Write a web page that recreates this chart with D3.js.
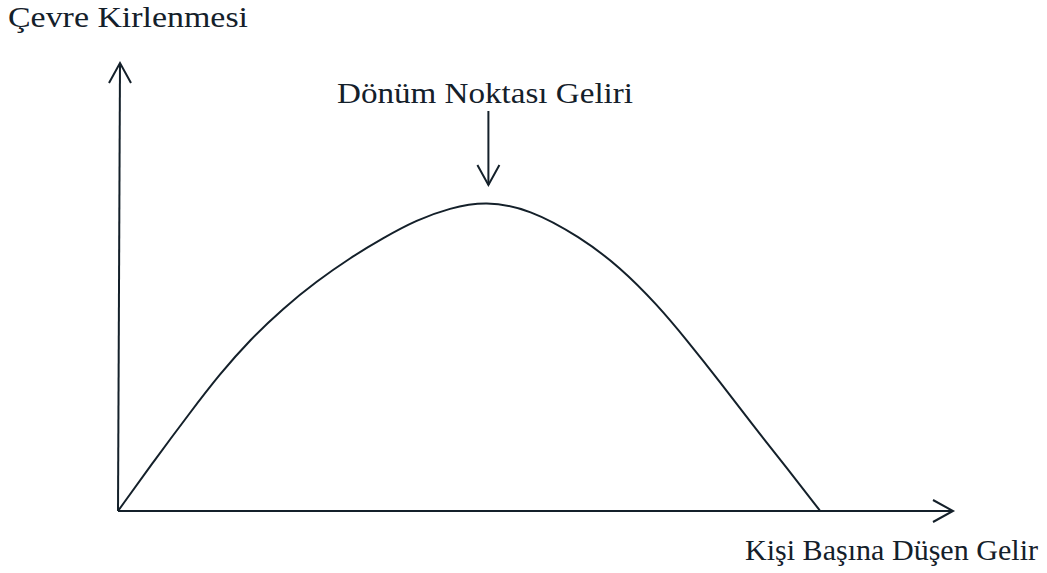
<!DOCTYPE html>
<html>
<head>
<meta charset="utf-8">
<script src="https://cdn.jsdelivr.net/npm/d3@7"></script>
<style>
  body { margin: 0; background: #fff; }
  text { font-family: "Liberation Serif", "Times New Roman", serif; fill: #14202a; }
</style>
</head>
<body>
<div class="chart"></div>
<script>
// chart size
const width = 1047;
const height = 573;

// curve (income index 0-100, pollution index 0-100)
var income    = [0, 4.4, 8.6, 12.2, 15.8, 19.8, 23.8, 27.8, 31.7, 35.8, 39.7, 44.0, 49.3, 55.3, 60.1, 64.6, 68.1, 72.1, 76.0, 80.1, 84.1];
var pollution = [0, 11.4, 21.9, 30.6, 38.2, 45.3, 51.3, 56.5, 60.9, 65.0, 67.6, 69.2, 67.4, 61.2, 54.5, 46.0, 38.2, 28.8, 19.2, 9.6, 0];

// labels
var yLabel = "Çevre Kirlenmesi";
var xLabel = "Kişi Başına Düşen Gelir";
var peakLabel = "Dönüm Noktası Geliri";

var data = income.map(function(d, i) { return {x: d, y: pollution[i]}; });

var svg = d3.select(".chart")
  .append("svg")
    .attr("width", width)
    .attr("height", height);

// scales: origin at (118, 511)
var x = d3.scaleLinear().domain([0, 100]).range([118, 953]);
var y = d3.scaleLinear().domain([0, 100]).range([511, 63]);

var ink = "#14202a";

// axes (no ticks, just arrows)
svg.append("line")
  .attr("x1", x(0)).attr("y1", y(0))
  .attr("x2", x(100)).attr("y2", y(0))
  .attr("stroke", ink).attr("stroke-width", 2);

svg.append("line")
  .attr("x1", x(0)).attr("y1", y(0))
  .attr("x2", x(0) + 2).attr("y2", y(100))
  .attr("stroke", ink).attr("stroke-width", 2);

// open V arrow pointing along angle (deg)
function arrowHead(tx, ty, angle) {
  svg.append("path")
    .attr("d", "M-20,-11L0,0L-20,11")
    .attr("transform", "translate(" + tx + "," + ty + ") rotate(" + angle + ")")
    .attr("fill", "none")
    .attr("stroke", ink)
    .attr("stroke-width", 2);
}
arrowHead(x(100), y(0), 0);
arrowHead(x(0) + 2, y(100), -90);

// the curve - basis spline smooths out the reading noise
var line = d3.line()
  .x(function(d) { return x(d.x); })
  .y(function(d) { return y(d.y); })
  .curve(d3.curveBasis);

svg.append("path")
  .datum(data)
  .attr("d", line)
  .attr("fill", "none")
  .attr("stroke", ink)
  .attr("stroke-width", 2);

// turning point annotation
var peak = data.reduce(function(a, b) { return b.y > a.y ? b : a; });
var px = x(peak.x) + 3;
var tipY = y(peak.y) - 16;

svg.append("line")
  .attr("x1", px).attr("y1", tipY - 74)
  .attr("x2", px).attr("y2", tipY)
  .attr("stroke", ink).attr("stroke-width", 2);
arrowHead(px, tipY, 90);

// the scanned text is a bit wider than the font, so stretch it to fit
svg.append("text")
  .attr("x", 337)
  .attr("y", 103)
  .attr("textLength", 296)
  .attr("lengthAdjust", "spacingAndGlyphs")
  .style("font-size", "30px")
  .text(peakLabel);

// axis labels
svg.append("text")
  .attr("x", 8)
  .attr("y", 27)
  .attr("textLength", 240)
  .attr("lengthAdjust", "spacingAndGlyphs")
  .style("font-size", "29px")
  .text(yLabel);

svg.append("text")
  .attr("x", 745)
  .attr("y", 560)
  .attr("textLength", 293)
  .attr("lengthAdjust", "spacingAndGlyphs")
  .style("font-size", "29px")
  .text(xLabel);
</script>
</body>
</html>
